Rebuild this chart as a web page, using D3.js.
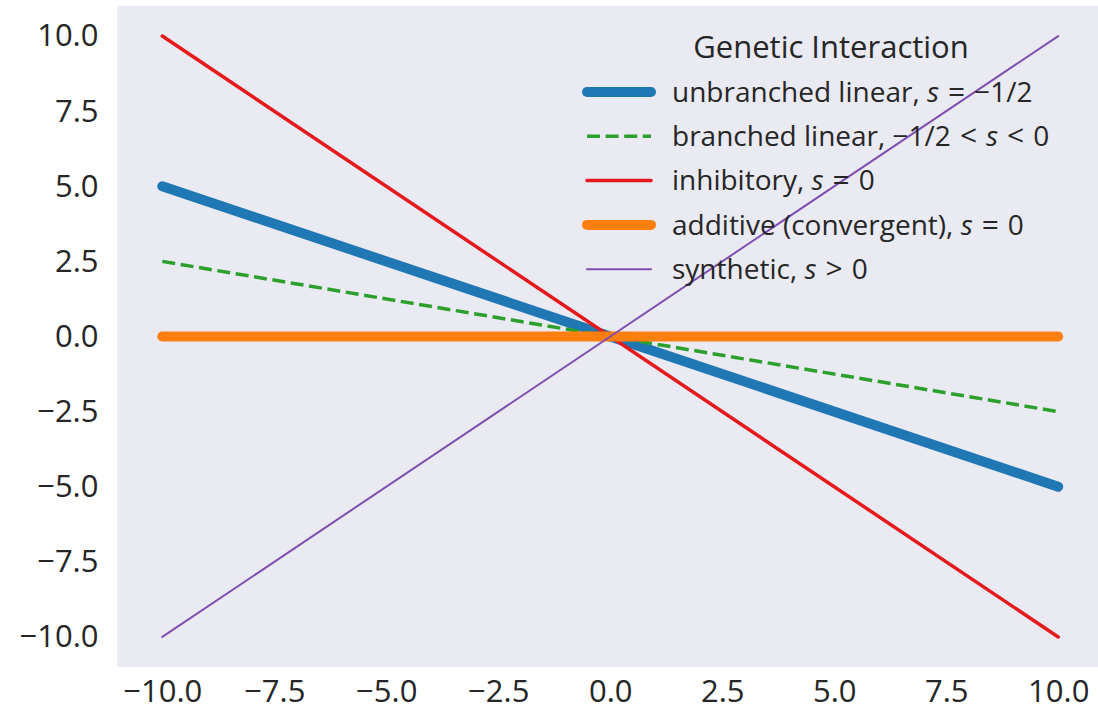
<!DOCTYPE html>
<html>
<head>
<meta charset="utf-8">
<script src="https://cdn.jsdelivr.net/npm/d3@7"></script>
<style>
  html, body { margin: 0; padding: 0; background: #ffffff; }
  svg text { font-family: "Open Sans", "DejaVu Sans", sans-serif; fill: #262626; }
</style>
</head>
<body>
<svg id="chart" width="1098" height="713"></svg>
<script>
// Endpoints of each interaction line (x from -10 to 10)
const xValues = [-10, 10];
const unbranched = [5, -5];
const branched = [2.5, -2.5];
const inhibitory = [10, -10];
const additive = [0, 0];
const synthetic = [-10, 10];

const xTicks = [-10, -7.5, -5, -2.5, 0, 2.5, 5, 7.5, 10];
const yTicks = [-10, -7.5, -5, -2.5, 0, 2.5, 5, 7.5, 10];

const legendTitle = "Genetic Interaction";

// Label pieces: [text, kind] where kind is "t" (plain), "v" (math variable) or "o" (relation)
const series = [
  { name: [["unbranched linear, ", "t"], ["s", "v"], ["=", "o"], ["−1/2", "t"]], values: unbranched, color: "#1f77b4", width: 10, dash: null },
  { name: [["branched linear, −1/2", "t"], ["<", "o"], ["s", "v"], ["<", "o"], ["0", "t"]], values: branched, color: "#2ca02c", width: 3.5, dash: "13,5.6" },
  { name: [["inhibitory, ", "t"], ["s", "v"], ["=", "o"], ["0", "t"]], values: inhibitory, color: "#e41a1c", width: 3.5, dash: null },
  { name: [["additive (convergent), ", "t"], ["s", "v"], ["=", "o"], ["0", "t"]], values: additive, color: "#ff7f0e", width: 10, dash: null },
  { name: [["synthetic, ", "t"], ["s", "v"], [">", "o"], ["0", "t"]], values: synthetic, color: "#7f4fb0", width: 2, dash: null }
];

const svg = d3.select("#chart");
const plot = { left: 117.5, right: 1103, top: 6, bottom: 667 };

const x = d3.scaleLinear().domain([-11, 11]).range([plot.left, plot.right]);
const y = d3.scaleLinear().domain([-11, 11]).range([plot.bottom, plot.top]);

svg.append("rect")
  .attr("x", plot.left).attr("y", plot.top)
  .attr("width", plot.right - plot.left).attr("height", plot.bottom - plot.top)
  .attr("fill", "#eaeaf2");

const fmt = v => d3.format(".1f")(v).replace("-", "−");

const xAxis = svg.append("g")
  .attr("transform", `translate(0,${plot.bottom})`)
  .call(d3.axisBottom(x).tickValues(xTicks).tickFormat(fmt).tickSize(0).tickPadding(13));
xAxis.select(".domain").remove();

const yAxis = svg.append("g")
  .attr("transform", `translate(${plot.left},0)`)
  .call(d3.axisLeft(y).tickValues(yTicks).tickFormat(fmt).tickSize(0).tickPadding(19));
yAxis.select(".domain").remove();

svg.selectAll("g").attr("font-family", null).attr("font-size", null);
svg.selectAll(".tick text").attr("font-size", 31).attr("fill", "#262626");
xAxis.selectAll("text").attr("dy", "0.71em");

const line = d3.line().x(d => x(d[0])).y(d => y(d[1]));

series.forEach(s => {
  svg.append("path")
    .datum(xValues.map((xv, i) => [xv, s.values[i]]))
    .attr("d", line)
    .attr("fill", "none")
    .attr("stroke", s.color)
    .attr("stroke-width", s.width)
    .attr("stroke-linecap", s.dash ? "butt" : "round")
    .attr("stroke-dasharray", s.dash);
});

// Legend
const legend = svg.append("g");
legend.append("text")
  .attr("x", 831).attr("y", 47).attr("dy", "0.35em")
  .attr("text-anchor", "middle").attr("font-size", 31)
  .text(legendTitle);

series.forEach((s, i) => {
  const yy = 92 + i * 44.3;
  legend.append("line")
    .attr("x1", 587).attr("x2", 651).attr("y1", yy).attr("y2", yy)
    .attr("stroke", s.color)
    .attr("stroke-width", s.width)
    .attr("stroke-linecap", s.dash ? "butt" : "round")
    .attr("stroke-dasharray", s.dash);
  const t = legend.append("text")
    .attr("x", 672).attr("y", yy).attr("dy", "0.35em")
    .attr("font-size", 28);
  let afterOp = false;
  s.name.forEach(([txt, kind]) => {
    const ts = t.append("tspan").text(txt);
    if (kind === "v") ts.attr("font-style", "italic");
    if (kind === "o") ts.attr("dx", 9).attr("font-size", 30);
    else if (afterOp) ts.attr("dx", 9);
    afterOp = kind === "o";
  });
});
</script>
</body>
</html>
